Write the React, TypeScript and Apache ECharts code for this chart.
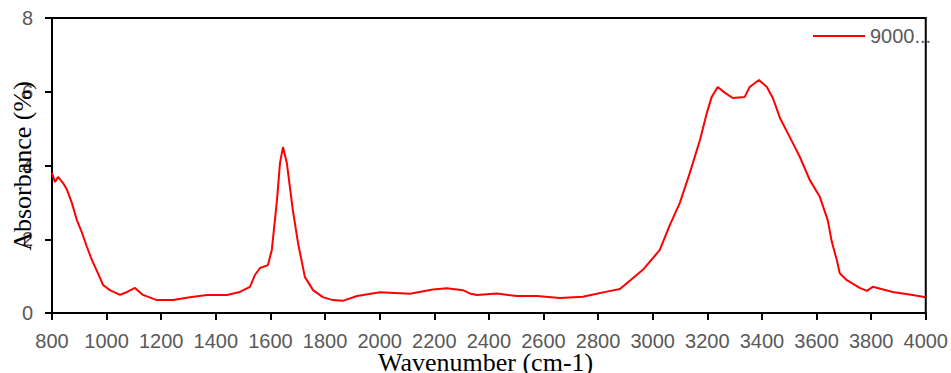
import React, { useEffect, useRef } from "react";
import * as echarts from "echarts";

const seriesName = "9000...";
const wavenumbers = [
  800, 811, 822, 840, 855, 873, 891, 910, 928, 946, 968, 987, 1012, 1049, 1075, 1104, 1133, 1184, 1243, 1305,
  1368, 1441, 1488, 1525, 1543, 1562, 1591, 1605, 1624, 1635, 1646, 1660, 1682, 1701, 1726, 1756, 1792, 1829,
  1865, 1917, 2001, 2038, 2111, 2195, 2246, 2305, 2330, 2356, 2429, 2502, 2576, 2660, 2744, 2795, 2832, 2880,
  2964, 3026, 3063, 3099, 3136, 3173, 3198, 3216, 3238, 3265, 3293, 3337, 3355, 3389, 3418, 3440, 3466, 3502,
  3539, 3575, 3612, 3641, 3656, 3674, 3685, 3711, 3758, 3784, 3806, 3879, 3952, 4000,
];
const absorbance = [
  3.8, 3.55, 3.69, 3.53, 3.34, 2.98, 2.52, 2.17, 1.79, 1.44, 1.08, 0.76, 0.62, 0.49, 0.57, 0.68, 0.49, 0.35, 0.35, 0.43,
  0.49, 0.49, 0.57, 0.71, 1.03, 1.22, 1.3, 1.71, 3.06, 4.07, 4.5, 4.07, 2.79, 1.9, 0.98, 0.62, 0.43, 0.35,
  0.33, 0.46, 0.56, 0.55, 0.52, 0.64, 0.67, 0.62, 0.53, 0.49, 0.53, 0.46, 0.46, 0.41, 0.44, 0.52, 0.58, 0.65,
  1.17, 1.71, 2.39, 2.98, 3.8, 4.69, 5.42, 5.86, 6.13, 5.97, 5.83, 5.86, 6.13, 6.32, 6.13, 5.83, 5.29, 4.77,
  4.23, 3.61, 3.15, 2.52, 1.93, 1.44, 1.08, 0.89, 0.68, 0.6, 0.71, 0.57, 0.49, 0.43,
];
const xTitle = "Wavenumber (cm-1)";
const yTitle = "Absorbance (%)";

export default function App() {
  const ref = useRef<HTMLDivElement>(null);
  useEffect(() => {
    if (!ref.current) return;
    const chart = echarts.init(ref.current, null, { renderer: "svg" });
    const gray = "#595959";
    const font = "'Liberation Sans', Arial, sans-serif";
    chart.setOption({
      animation: false,
      backgroundColor: "#fff",
      grid: { left: 52, right: 25, top: 18, bottom: 60, show: true, borderColor: "#000", borderWidth: 2 },
      legend: {
        left: 813,
        top: 26,
        padding: 0,
        itemWidth: 52,
        itemHeight: 2,
        itemGap: 5,
        icon: "rect",
        textStyle: { color: gray, fontSize: 20, fontFamily: font },
        data: [seriesName],
      },
      xAxis: {
        type: "value",
        min: 800,
        max: 4000,
        interval: 200,
        splitLine: { show: false },
        axisLine: { show: true, lineStyle: { color: "#000", width: 2 } },
        axisTick: { show: true, length: 7, lineStyle: { color: "#000", width: 2 } },
        axisLabel: {
          color: gray,
          fontSize: 20,
          fontFamily: font,
          margin: 18,
          formatter: (v: number) => String(v),
        },
      },
      yAxis: {
        type: "value",
        min: 0,
        max: 8,
        interval: 2,
        splitLine: { show: false },
        axisLine: { show: true, lineStyle: { color: "#000", width: 2 } },
        axisTick: { show: true, length: 7, lineStyle: { color: "#000", width: 2 } },
        axisLabel: { color: gray, fontSize: 20, fontFamily: font, margin: 19 },
      },
      series: [
        {
          name: seriesName,
          type: "line",
          data: wavenumbers.map((w, i) => [w, absorbance[i]]),
          showSymbol: false,
          symbol: "none",
          lineStyle: { color: "#ff0000", width: 2 },
          itemStyle: { color: "#ff0000" },
        },
      ],
      graphic: [
        {
          type: "text",
          left: 378,
          top: 349,
          z: 100,
          style: { text: xTitle, fill: "#000", fontSize: 26, fontFamily: "'Liberation Serif', 'Times New Roman', serif" },
        },
        {
          type: "text",
          x: 22,
          y: 166,
          rotation: Math.PI / 2,
          z: 100,
          style: {
            text: yTitle,
            fill: "#000",
            fontSize: 26,
            fontFamily: "'Liberation Serif', 'Times New Roman', serif",
            align: "center",
            verticalAlign: "middle",
          },
        },
      ],
    });
    return () => chart.dispose();
  }, []);
  return <div ref={ref} style={{ position: "absolute", left: 0, top: 0, width: 951, height: 373 }} />;
}
